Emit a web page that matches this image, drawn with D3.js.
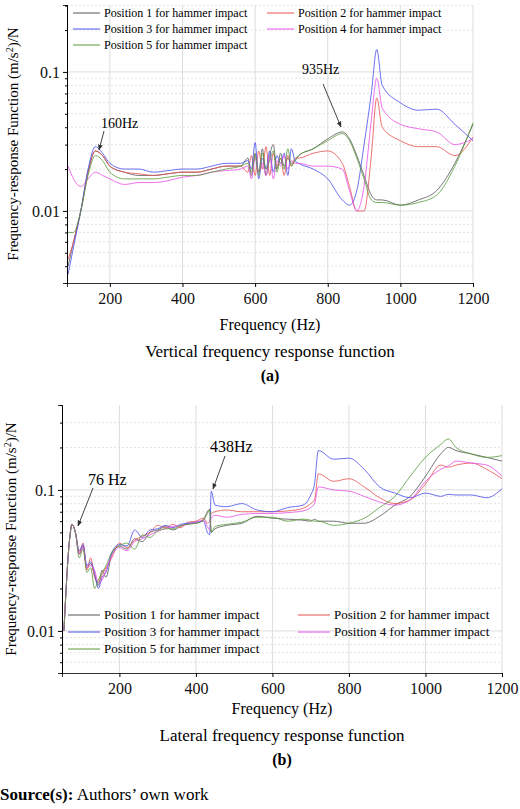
<!DOCTYPE html>
<html><head><meta charset="utf-8">
<script src="https://cdn.jsdelivr.net/npm/d3@7"></script>
<style>body{margin:0;background:#fff}svg text{font-family:"Liberation Serif","Times New Roman",serif !important}</style>
</head><body><svg id="c" width="520" height="809" font-family="Liberation Serif"></svg>
<script>
const seriesNames=["Position 1 for hammer impact","Position 2 for hammer impact","Position 3 for hammer impact","Position 4 for hammer impact","Position 5 for hammer impact"];
const colors=["#555555","#e8504f","#4a4ef0","#e84fe8","#5a9a3a"];
const xTicks=[200,400,600,800,1000,1200];
const yTickLabels=["0.01","0.1"];

// Panel (a) vertical
const freqA=[85,100,120,140,160,180,200,240,280,320,360,400,440,480,520,560,580,590,600,610,620,630,640,650,660,670,680,690,700,710,720,760,800,840,860,880,900,920,935,950,1000,1050,1100,1150,1200];
const a1=[0.004,0.006,0.010,0.019,0.027,0.025,0.021,0.019,0.018,0.018,0.0185,0.019,0.019,0.020,0.021,0.021,0.024,0.018,0.026,0.019,0.028,0.018,0.025,0.030,0.020,0.026,0.021,0.024,0.022,0.023,0.025,0.028,0.033,0.037,0.033,0.025,0.018,0.013,0.012,0.012,0.011,0.012,0.014,0.022,0.042];
const a2=[0.0045,0.006,0.010,0.019,0.027,0.025,0.021,0.019,0.0185,0.018,0.0185,0.019,0.019,0.020,0.021,0.021,0.019,0.025,0.018,0.027,0.020,0.029,0.018,0.026,0.021,0.024,0.018,0.025,0.021,0.024,0.024,0.026,0.027,0.022,0.015,0.010,0.010,0.025,0.065,0.040,0.032,0.029,0.029,0.025,0.034];
const a3=[0.0035,0.0055,0.010,0.020,0.029,0.026,0.022,0.020,0.020,0.019,0.0195,0.020,0.020,0.021,0.022,0.022,0.023,0.020,0.031,0.017,0.024,0.020,0.027,0.019,0.025,0.022,0.026,0.018,0.028,0.023,0.022,0.020,0.017,0.012,0.011,0.014,0.030,0.070,0.145,0.080,0.060,0.053,0.054,0.042,0.032];
const a4=[0.021,0.017,0.015,0.017,0.019,0.018,0.017,0.0155,0.016,0.016,0.0165,0.0175,0.018,0.019,0.0195,0.020,0.021,0.017,0.024,0.019,0.022,0.018,0.025,0.017,0.023,0.021,0.025,0.020,0.023,0.022,0.022,0.021,0.021,0.020,0.014,0.010,0.015,0.045,0.090,0.055,0.042,0.039,0.037,0.030,0.033];
const a5=[0.007,0.007,0.010,0.018,0.025,0.023,0.019,0.017,0.017,0.017,0.0175,0.018,0.018,0.019,0.020,0.021,0.022,0.019,0.025,0.018,0.026,0.020,0.023,0.027,0.019,0.024,0.020,0.028,0.021,0.023,0.025,0.028,0.032,0.036,0.032,0.024,0.017,0.012,0.0115,0.0115,0.011,0.0115,0.013,0.021,0.043];

// Panel (b) lateral
const freqB=[55,70,76,85,95,105,115,125,135,145,155,165,180,200,220,240,260,280,300,320,340,360,380,400,420,430,436,440,450,480,520,560,600,640,680,700,710,720,760,800,840,880,920,960,1000,1040,1060,1080,1120,1160,1200];
const b1=[0.01,0.045,0.057,0.05,0.035,0.040,0.028,0.030,0.025,0.021,0.027,0.024,0.035,0.040,0.038,0.045,0.043,0.050,0.052,0.055,0.052,0.055,0.058,0.058,0.062,0.070,0.073,0.050,0.053,0.056,0.058,0.065,0.063,0.062,0.061,0.060,0.062,0.060,0.060,0.058,0.058,0.065,0.078,0.090,0.125,0.180,0.200,0.190,0.180,0.170,0.160];
const b2=[0.01,0.045,0.057,0.05,0.036,0.042,0.027,0.033,0.024,0.022,0.025,0.028,0.033,0.042,0.039,0.044,0.047,0.050,0.056,0.054,0.057,0.054,0.059,0.060,0.063,0.058,0.060,0.068,0.070,0.072,0.070,0.070,0.070,0.071,0.074,0.080,0.085,0.130,0.115,0.120,0.105,0.088,0.080,0.085,0.110,0.150,0.145,0.150,0.155,0.140,0.120];
const b3=[0.01,0.045,0.057,0.05,0.037,0.041,0.029,0.031,0.026,0.020,0.024,0.026,0.036,0.041,0.040,0.052,0.046,0.052,0.053,0.056,0.054,0.057,0.058,0.059,0.060,0.050,0.048,0.098,0.078,0.076,0.080,0.072,0.070,0.075,0.078,0.092,0.110,0.190,0.165,0.168,0.140,0.105,0.095,0.088,0.095,0.090,0.093,0.092,0.092,0.088,0.102];
const b4=[0.01,0.045,0.057,0.05,0.035,0.039,0.028,0.029,0.027,0.022,0.023,0.027,0.034,0.039,0.037,0.043,0.045,0.048,0.051,0.053,0.055,0.056,0.057,0.059,0.061,0.055,0.052,0.063,0.066,0.064,0.067,0.068,0.068,0.069,0.071,0.075,0.080,0.105,0.100,0.098,0.090,0.082,0.078,0.085,0.115,0.140,0.148,0.160,0.155,0.150,0.125];
const b5=[0.01,0.045,0.057,0.05,0.033,0.038,0.026,0.028,0.020,0.023,0.026,0.029,0.036,0.040,0.042,0.038,0.048,0.046,0.051,0.053,0.053,0.056,0.057,0.058,0.061,0.068,0.072,0.050,0.055,0.057,0.059,0.064,0.064,0.060,0.062,0.061,0.060,0.060,0.056,0.058,0.063,0.075,0.090,0.125,0.170,0.210,0.230,0.200,0.180,0.170,0.175];

const FF="Liberation Serif, Times New Roman, serif";
const svg=d3.select("#c");
function panel(o){
  const g=svg.append("g");
  const x=d3.scaleLinear().domain(o.xd).range([o.l,o.r]);
  const y=d3.scaleLog().domain(o.yd).range([o.b,o.t]);
  const minors=[];
  for(let e=-3;e<=0;e++)for(let m=2;m<=9;m++){const v=m*Math.pow(10,e);if(v>o.yd[0]&&v<o.yd[1])minors.push(v);}
  g.selectAll(".mg").data(minors).join("line").attr("x1",o.l).attr("x2",o.r).attr("y1",d=>y(d)).attr("y2",d=>y(d))
    .attr("stroke","#ddd").attr("stroke-dasharray","2,2").attr("stroke-width",0.8);
  g.selectAll(".gx").data(xTicks).join("line").attr("x1",d=>x(d)).attr("x2",d=>x(d)).attr("y1",o.t).attr("y2",o.b).attr("stroke","#ddd");
  g.selectAll(".gy").data([0.01,0.1]).join("line").attr("x1",o.l).attr("x2",o.r).attr("y1",d=>y(d)).attr("y2",d=>y(d)).attr("stroke","#ddd");
  const line=d3.line().x((d,i)=>x(o.f[i])).y(d=>y(d)).curve(d3.curveMonotoneX);
  o.s.forEach((s,i)=>g.append("path").attr("d",line(s)).attr("fill","none").attr("stroke",colors[i]).attr("stroke-width",0.9).attr("opacity",0.9));
  const xa=g.append("g").attr("transform",`translate(0,${o.b})`).call(d3.axisBottom(x).tickValues(xTicks).tickSize(4).tickFormat(d3.format("d")));
  const ya=g.append("g").attr("transform",`translate(${o.l},0)`).call(d3.axisLeft(y).tickValues([0.01,0.1]).tickSize(4).tickFormat((d,i)=>yTickLabels[i]));
  g.append("g").attr("transform",`translate(${o.l},0)`).call(d3.axisLeft(y).tickValues(minors).tickSize(2).tickFormat(""));
  [xa,ya].forEach(a=>{a.attr("font-family",FF);a.selectAll("text").attr("font-size",o.tf).attr("fill","#111");a.select(".domain").attr("stroke","#333");});
  xa.selectAll("text").attr("dy","0.9em");
  seriesNames.forEach((n,i)=>{const c=i%2,r=Math.floor(i/2);
    const lx=o.leg[0]+c*o.leg[2], ly=o.leg[1]+r*o.leg[3];
    g.append("line").attr("x1",lx).attr("x2",lx+o.leg[4]).attr("y1",ly).attr("y2",ly).attr("stroke",colors[i]);
    g.append("text").attr("x",lx+o.leg[4]+4).attr("y",ly+4).attr("font-size",o.lf).text(n);});
  o.ann.forEach(a=>{g.append("text").attr("x",a[0]).attr("y",a[1]).attr("font-size",o.af).text(a[2]);
    g.append("line").attr("x1",a[3]).attr("y1",a[4]).attr("x2",a[5]).attr("y2",a[6]).attr("stroke","#444").attr("marker-end","url(#ar)");});
  const cx=(o.l+o.r)/2;
  g.append("text").attr("x",cx).attr("y",o.xt).attr("text-anchor","middle").attr("font-size",16).text("Frequency (Hz)");
  g.append("text").attr("transform",`translate(${o.yl},${(o.t+o.b)/2}) rotate(-90)`).attr("text-anchor","middle").attr("font-size",15)
    .html('Frequency-response Function (m/s<tspan dy="-5" font-size="10">2</tspan><tspan dy="5">)/N</tspan>');
  g.append("text").attr("x",cx).attr("y",o.xt+27).attr("text-anchor","middle").attr("font-size",17).text(o.title);
  g.append("text").attr("x",cx).attr("y",o.xt+51).attr("text-anchor","middle").attr("font-size",16).attr("font-weight","bold").text(o.tag);
}
svg.append("defs").append("marker").attr("id","ar").attr("viewBox","0 0 10 10").attr("refX",9).attr("refY",5).attr("markerWidth",6).attr("markerHeight",6).attr("orient","auto")
  .append("path").attr("d","M0,1L10,5L0,9z").attr("fill","#333");
panel({xd:[82,1200],yd:[0.00303,0.303],l:67,r:473,t:5,b:283,f:freqA,s:[a1,a2,a3,a4,a5],tf:16,lf:12,af:14,
  leg:[73,13,194,16,27],ann:[[101,128,"160Hz",104,131,99,150],[302,74,"935Hz",323,84,341,127]],xt:330,yl:18,title:"Vertical frequency response function",tag:"(a)"});
panel({xd:[50,1200],yd:[0.00503,0.40],l:62,r:502,t:405,b:673,f:freqB,s:[b1,b2,b3,b4,b5],tf:16,lf:13,af:16,
  leg:[68,615,230,17,32],ann:[[88,485,"76 Hz",93,488,78,526],[210,452,"438Hz",225,456,213,489]],xt:714,yl:16,title:"Lateral frequency response function",tag:"(b)"});
svg.append("text").attr("x",0).attr("y",800).attr("font-size",17).html('<tspan font-weight="bold">Source(s):</tspan> Authors’ own work');
</script></body></html>
